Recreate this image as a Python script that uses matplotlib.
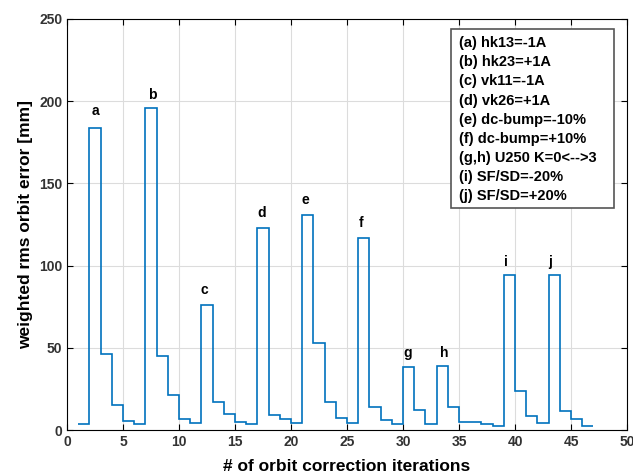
import matplotlib
matplotlib.use("Agg")
import matplotlib.pyplot as plt
from matplotlib.patches import Rectangle

plt.rcParams['font.family'] = ['Liberation Sans', 'DejaVu Sans']
plt.rcParams['font.weight'] = 'bold'

iterations = list(range(1, 48))
rms_error = [3.5, 184, 46, 15, 5.5, 3.5, 196, 45, 21, 6.5, 4, 76, 17, 10, 5, 3.5,
             123, 9, 6.5, 4.5, 130.5, 53, 17, 7, 4, 117, 14, 6, 3.5, 38.5, 12, 3.5,
             39, 14, 5, 5, 3.5, 2.5, 94, 23.5, 8.5, 4, 94.5, 11.5, 6.5, 2.5]

peak_labels = ['a', 'b', 'c', 'd', 'e', 'f', 'g', 'h', 'i', 'j']
peak_x = [2.5, 7.6, 12.3, 17.4, 21.3, 26.3, 30.4, 33.7, 39.2, 43.1]
peak_y = [194, 204, 85, 132, 140, 126, 47, 47, 102, 102]

legend_lines = ['(a) hk13=-1A', '(b) hk23=+1A', '(c) vk11=-1A', '(d) vk26=+1A',
                '(e) dc-bump=-10%', '(f) dc-bump=+10%', '(g,h) U250 K=0<-->3',
                '(i) SF/SD=-20%', '(j) SF/SD=+20%']

xticks = [0, 5, 10, 15, 20, 25, 30, 35, 40, 45, 50]
yticks = [0, 50, 100, 150, 200, 250]

fig = plt.figure(figsize=(6.33, 4.75), dpi=100)
ax = fig.add_axes([67/633, 45/475, 560/633, 411/475])

ax.stairs(rms_error, iterations, baseline=None, color='#0072BD', linewidth=1.2)

for lab, x, y in zip(peak_labels, peak_x, peak_y):
    ax.text(x, y, lab, ha='center', va='center', fontsize=10, fontweight='bold')

ax.set_xlim(0, 50)
ax.set_ylim(0, 250)
ax.set_xticks(xticks)
ax.set_yticks(yticks)
ax.grid(True, color='#dcdcdc', linewidth=0.8)
ax.set_axisbelow(True)
ax.tick_params(direction='in', top=True, right=True, labelsize=10, length=4)
for lbl in ax.get_xticklabels() + ax.get_yticklabels():
    lbl.set_fontweight('bold')
    lbl.set_color('#333333')
for sp in ax.spines.values():
    sp.set_linewidth(0.8)

ax.set_xlabel('# of orbit correction iterations', fontsize=12.5, fontweight='bold', labelpad=7)
ax.set_ylabel('weighted rms orbit error [mm]', fontsize=12.5, fontweight='bold', labelpad=4)

# legend-like annotation box
x0, x1 = (451 - 67) / 560, (614 - 67) / 560
y0, y1 = (430 - 208) / 411, (430 - 29) / 411
ax.add_patch(Rectangle((x0, y0), x1 - x0, y1 - y0, transform=ax.transAxes,
                       facecolor='white', edgecolor='#555555', linewidth=1.2, zorder=5))
ax.text((459 - 67) / 560, (430 - 36) / 411, '\n'.join(legend_lines), transform=ax.transAxes,
        ha='left', va='top', fontsize=10.5, fontweight='bold', linespacing=1.47, zorder=6)

fig.savefig('out.png', dpi=100)
